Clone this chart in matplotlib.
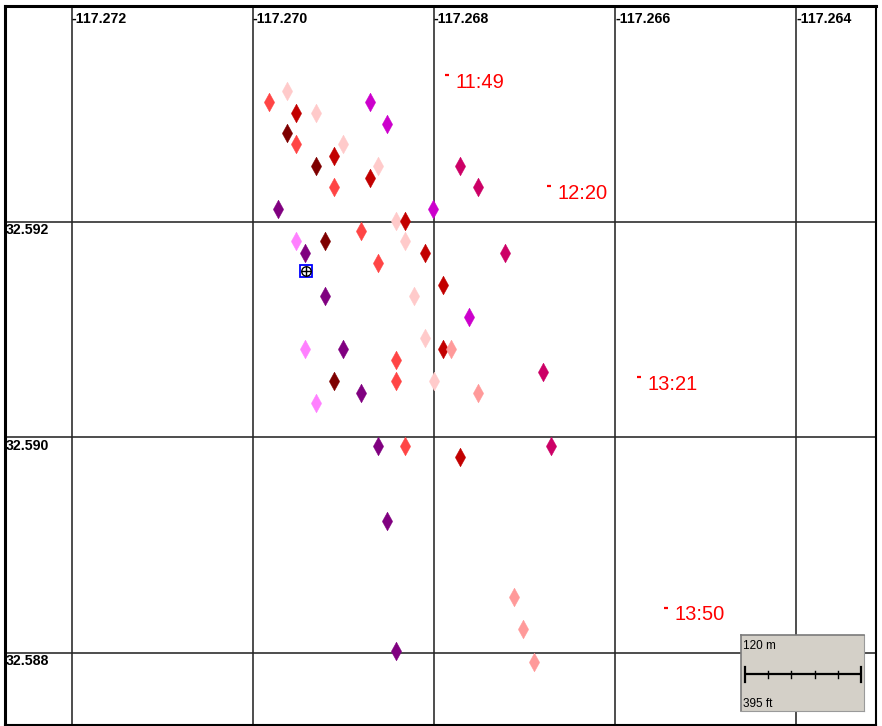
import matplotlib
matplotlib.use("Agg")
import matplotlib.pyplot as plt
from matplotlib.transforms import blended_transform_factory

# ---------------- data ----------------
lon = [-117.26982, -117.26962, -117.26952, -117.26930, -117.26871, -117.26852,
       -117.26962, -117.26952, -117.26900, -117.26910, -117.26930, -117.26862,
       -117.26871, -117.26910, -117.26771, -117.26751, -117.26972, -117.26801,
       -117.26842, -117.26832, -117.26881, -117.26952, -117.26920, -117.26832,
       -117.26942, -117.26810, -117.26722, -117.26862, -117.26790, -117.26920,
       -117.26822, -117.26761, -117.26810, -117.26942, -117.26900, -117.26790,
       -117.26781, -117.26842, -117.26680, -117.26910, -117.26842, -117.26800,
       -117.26881, -117.26751, -117.26930, -117.26862, -117.26832, -117.26671,
       -117.26771, -117.26852, -117.26712, -117.26702, -117.26842, -117.26690]
lat = [32.59311, 32.59321, 32.59301, 32.59301, 32.59311, 32.59291,
       32.59282, 32.59272, 32.59272, 32.59261, 32.59252, 32.59252,
       32.59241, 32.59232, 32.59252, 32.59232, 32.59212, 32.59212,
       32.59201, 32.59201, 32.59191, 32.59182, 32.59182, 32.59182,
       32.59171, 32.59171, 32.59171, 32.59162, 32.59141, 32.59131,
       32.59131, 32.59112, 32.59092, 32.59082, 32.59082, 32.59082,
       32.59082, 32.59072, 32.59061, 32.59052, 32.59052, 32.59052,
       32.59041, 32.59041, 32.59032, 32.58992, 32.58992, 32.58992,
       32.58982, 32.58922, 32.58852, 32.58822, 32.58802, 32.58792]
kind = ["red", "lpink", "dred", "lpink", "magenta", "magenta",
        "maroon", "red", "lpink", "dred", "maroon", "lpink",
        "dred", "red", "crimson", "crimson", "purple", "magenta",
        "lpink", "dred", "red", "violet", "maroon", "lpink",
        "purple", "dred", "crimson", "red", "dred", "purple",
        "lpink", "magenta", "lpink", "violet", "purple", "dred",
        "salmon", "red", "crimson", "maroon", "red", "lpink",
        "purple", "salmon", "violet", "purple", "red", "crimson",
        "dred", "purple", "salmon", "salmon", "purple", "salmon"]

time_labels = ["11:49", "12:20", "13:21", "13:50"]
time_lon = [-117.26786, -117.26673, -117.26574, -117.26544]
time_lat = [32.59336, 32.59233, 32.59056, 32.58842]

home_lon = [-117.26941]
home_lat = [32.59154]

lon_ticks = [-117.272, -117.270, -117.268, -117.266, -117.264]
lat_ticks = [32.592, 32.590, 32.588]

scale_m = "120 m"
scale_ft = "395 ft"

palette = {
    "red": "#FF4545", "lpink": "#FFCACA", "dred": "#C20000", "maroon": "#7E0000",
    "magenta": "#CC00CC", "crimson": "#CC0066", "purple": "#800080",
    "violet": "#FF80FF", "salmon": "#FF9A9A",
}

# ---------------- figure ----------------
W, H = 882, 726
fig = plt.figure(figsize=(W / 100, H / 100), dpi=100)
fig.patch.set_facecolor("white")

ax_l, ax_r, ax_t, ax_b = 5, 876, 5.5, 725
ax = fig.add_axes([ax_l / W, 1 - ax_b / H, (ax_r - ax_l) / W, (ax_b - ax_t) / H])
ax.set_xlim(-117.272736, -117.26312)
ax.set_ylim(32.587332, 32.594006)
ax.set_facecolor("white")

ax.set_xticks(lon_ticks)
ax.set_yticks(lat_ticks)
ax.tick_params(length=0, labelbottom=False, labelleft=False)
ax.grid(True, color="#262626", lw=1.15)
ax.set_axisbelow(True)

for s in ["top", "left"]:
    ax.spines[s].set_linewidth(2.2)
for s in ["right", "bottom"]:
    ax.spines[s].set_linewidth(1.5)
for s in ax.spines.values():
    s.set_color("black")

# tick labels drawn inside the frame
tx = blended_transform_factory(ax.transData, ax.transAxes)
for v in lon_ticks:
    ax.annotate(f"{v:.3f}", xy=(v, 1), xycoords=tx, xytext=(0, -17.5),
                textcoords="offset pixels", ha="left", va="baseline",
                fontsize=10.2, fontweight="bold", family="Liberation Sans")
ty = blended_transform_factory(ax.transAxes, ax.transData)
for v in lat_ticks:
    ax.annotate(f"{v:.3f}", xy=(0, v), xycoords=ty, xytext=(1, -12.5),
                textcoords="offset pixels", ha="left", va="baseline",
                fontsize=10.2, fontweight="bold", family="Liberation Sans")

# diamonds
diamond = [(0, 1), (0.55, 0), (0, -1), (-0.55, 0), (0, 1)]
for x, y, k in zip(lon, lat, kind):
    ax.plot(x, y, marker=diamond, ms=13.5, mfc=palette[k], mec=palette[k],
            mew=0.3, ls="none", zorder=3)

# home / crosshair marker
ax.plot(home_lon, home_lat, marker="s", ms=8.3, mfc="white", mec="#0000FF",
        mew=1.3, ls="none", zorder=4)
ax.plot(home_lon, home_lat, marker="o", ms=6.8, mfc="none", mec="black",
        mew=1.0, ls="none", zorder=5)
ax.plot(home_lon, home_lat, marker="+", ms=7.0, mec="black",
        mew=1.0, ls="none", zorder=5)

# time labels
ax.plot(time_lon, time_lat, marker="_", ms=2.5, mec="#FF0000", mew=1.6,
        ls="none", zorder=4)
for t, x, y in zip(time_labels, time_lon, time_lat):
    ax.annotate(t, xy=(x, y), xytext=(8.5, -12.5), textcoords="offset pixels",
                ha="left", va="baseline", color="#FF0000", fontsize=14.5,
                family="Liberation Sans")

# scale bar box
sx0, sx1, sy0, sy1 = 741, 864, 635, 711
sb = fig.add_axes([sx0 / W, 1 - sy1 / H, (sx1 - sx0) / W, (sy1 - sy0) / H])
sb.set_facecolor("#D4D0C8")
sb.set_xlim(0, sx1 - sx0)
sb.set_ylim(sy1 - sy0, 0)
sb.set_xticks([])
sb.set_yticks([])
for s in ["left", "top"]:
    sb.spines[s].set_color("#7a7a7a")
    sb.spines[s].set_linewidth(1.2)
for s in ["right", "bottom"]:
    sb.spines[s].set_color("#9a9a9a")
    sb.spines[s].set_linewidth(0.8)
bar_y = 39.3
sb.plot([4, 120], [bar_y, bar_y], color="black", lw=1.6, solid_capstyle="butt")
for xx in [4, 120]:
    sb.plot([xx, xx], [bar_y - 7.5, bar_y + 7.5], color="black", lw=1.6)
for xx in [27.2, 50.4, 73.6, 96.8]:
    sb.plot([xx, xx], [bar_y - 3.5, bar_y + 3.5], color="black", lw=1.0)
sb.text(2, 14, scale_m, fontsize=8.5, family="Liberation Sans", va="baseline", ha="left")
sb.text(2, 72, scale_ft, fontsize=8.5, family="Liberation Sans", va="baseline", ha="left")

fig.savefig("out.png", dpi=100)
